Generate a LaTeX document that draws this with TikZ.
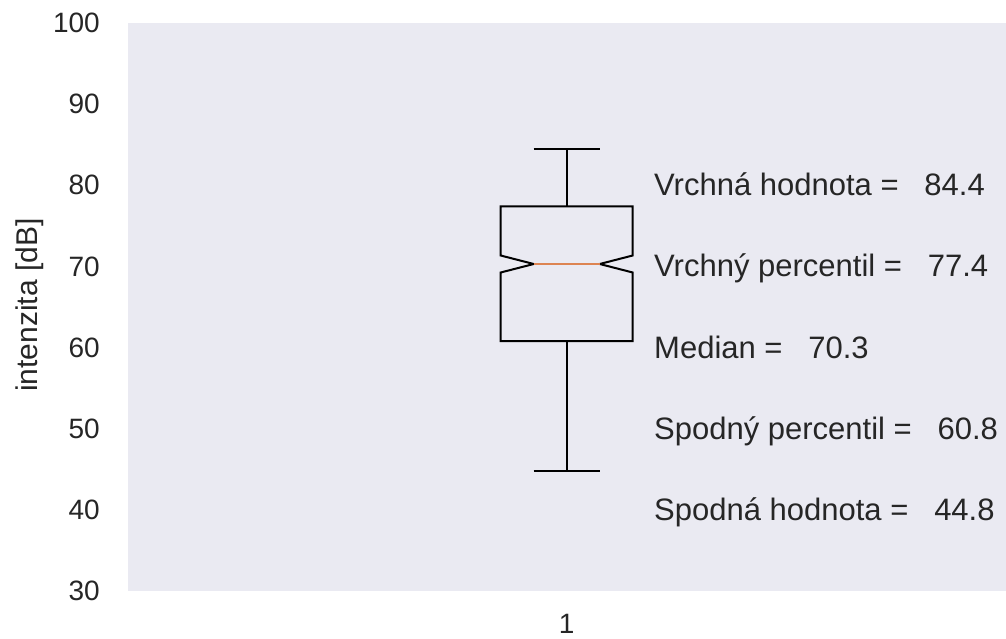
\documentclass[tikz,border=0pt]{standalone}
\usepackage{fontspec}
\setmainfont{Liberation Sans}
\definecolor{bgc}{HTML}{EAEAF2}
\definecolor{txt}{HTML}{262626}
\definecolor{medc}{HTML}{DD8452}
\begin{document}
\begin{tikzpicture}[x=1pt,y=-1pt,
  ticklab/.style={inner sep=0pt,text=txt,font=\fontsize{28}{31}\selectfont},
  annot/.style={inner sep=0pt,anchor=base west,text=txt,font=\fontsize{31}{34}\selectfont},
  boxline/.style={line width=2pt,black,line join=miter}]
\useasboundingbox (0,0) rectangle (1006,639);
\fill[white] (0,0) rectangle (1006,639);
\fill[bgc] (128,23) rectangle (1006,591);
% y ticks: y = 23 + (100-v)*8.1143
\foreach \v/\n in {100/a,90/b,80/c,70/d,60/e,50/f,40/g,30/h}{
  \node[ticklab,anchor=east] (t\n) at (100,{23+(100-\v)*8.1143}) {\v};
}
\node[ticklab,anchor=center] (tx) at (566.7,624) {1};
\node[inner sep=0pt,text=txt,rotate=90,font=\fontsize{30}{33}\selectfont] (ylab) at (30,305) {intenzita [dB]};
% boxplot
\coordinate (wt) at (566.7,149.5);
\coordinate (q3) at (566.7,206.4);
\coordinate (q1) at (566.7,341.1);
\coordinate (wb) at (566.7,470.9);
\draw[boxline] (wt) -- (q3);
\draw[boxline] (q1) -- (wb);
\draw[boxline] (533.7,149.5) -- (599.7,149.5);
\draw[boxline] (533.7,470.9) -- (599.7,470.9);
\draw[boxline] (500.7,341.1) -- (632.7,341.1) -- (632.7,272.5) -- (599.7,264) -- (632.7,255.5) -- (632.7,206.4)
  -- (500.7,206.4) -- (500.7,255.5) -- (533.7,264) -- (500.7,272.5) -- cycle;
\draw[line width=2pt,medc] (533.7,264) -- (599.7,264);
% annotations
\node[annot] (a1) at (654,{185.3+10.5}) {Vrchná hodnota =\ \ \ 84.4};
\node[annot] (a2) at (654,{266.4+10.5}) {Vrchný percentil =\ \ \ 77.4};
\node[annot] (a3) at (654,{347.6+10.5}) {Median =\ \ \ 70.3};
\node[annot] (a4) at (654,{428.7+10.5}) {Spodný percentil =\ \ \ 60.8};
\node[annot] (a5) at (654,{509.9+10.5}) {Spodná hodnota =\ \ \ 44.8};
\end{tikzpicture}
\end{document}
